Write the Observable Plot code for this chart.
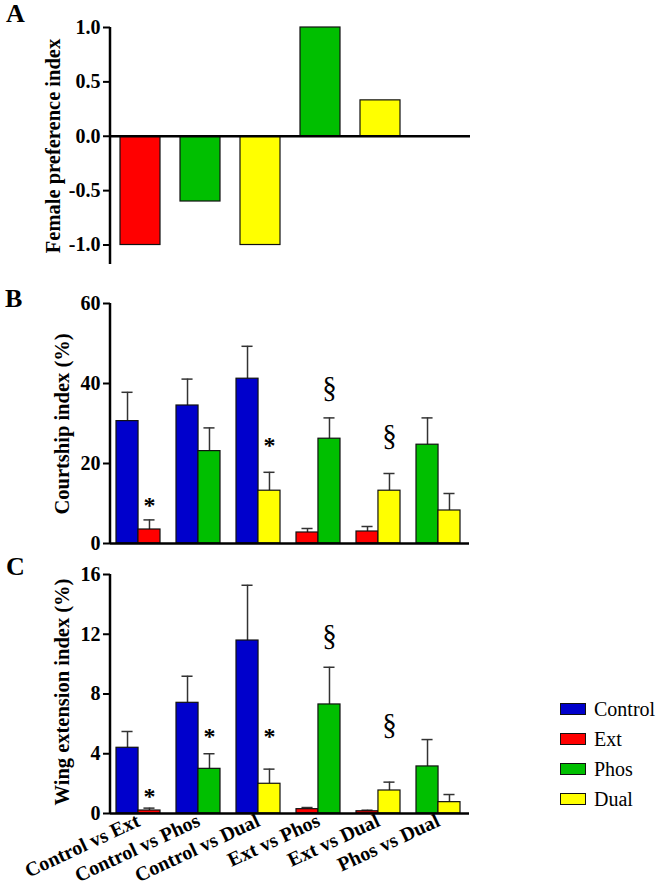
<!DOCTYPE html>
<html><head><meta charset="utf-8">
<script src="https://cdn.jsdelivr.net/npm/d3@7"></script>
<script src="https://cdn.jsdelivr.net/npm/@observablehq/plot@0.6"></script>
<style>
body{margin:0;background:#fff;}
#root{position:relative;width:658px;height:885px;overflow:hidden;font-family:"Liberation Serif","Times New Roman",Times,"DejaVu Serif","Noto Serif",serif;color:#000;background:#fff;}
.panel{position:absolute;left:0;}
.letter{position:absolute;font-size:26px;font-weight:bold;line-height:1;}
.ytitle{position:absolute;font-size:20.5px;font-weight:bold;white-space:nowrap;line-height:1;transform:translate(-50%,-50%) rotate(-90deg);}
.legend-item{position:absolute;left:560px;width:100px;height:12px;}
.swatch{position:absolute;left:0;top:0;width:26px;height:12px;box-sizing:border-box;border:1.5px solid #111;}
.legend-label{position:absolute;left:34px;top:50%;transform:translateY(-50%);font-size:20px;white-space:nowrap;line-height:1;}
</style>
</head><body>
<div id="root">
  <div class="letter" style="left:6px;top:1px">A</div>
  <div class="letter" style="left:5px;top:285.5px">B</div>
  <div class="letter" style="left:6px;top:553.5px">C</div>
  <div id="panelA" class="panel" style="top:0px"></div>
  <div id="panelB" class="panel" style="top:280px"></div>
  <div id="panelC" class="panel" style="top:555px"></div>
  <div class="ytitle" style="left:53px;top:146px">Female preference index</div>
  <div class="ytitle" style="left:62px;top:424px">Courtship index (%)</div>
  <div class="ytitle" style="left:62px;top:692px">Wing extension index (%)</div>
  <div id="legend"></div>
</div>
<script>
// ---------- data ----------
const comparisons = ["Control vs Ext","Control vs Phos","Control vs Dual","Ext vs Phos","Ext vs Dual","Phos vs Dual"];
const firstSeries = ["Control","Control","Control","Ext","Ext","Phos"];
const secondSeries = ["Ext","Phos","Dual","Phos","Dual","Dual"];
const seriesNames = ["Control","Ext","Phos","Dual"];
const seriesColors = ["#0000cc","#ff0000","#00bf00","#ffff00"];

// Panel A
const preferenceIndex = [-1.0, -0.6, -1.0, 1.0, 0.33, null];
const prefTicks = [-1.0, -0.5, 0.0, 0.5, 1.0];

// Panel B
const courtshipFirst = [30.6, 34.5, 41.2, 2.75, 3.0, 24.7];
const courtshipFirstSem = [7.2, 6.6, 8.1, 1.0, 1.25, 6.7];
const courtshipSecond = [3.5, 23.1, 13.2, 26.2, 13.2, 8.25];
const courtshipSecondSem = [2.4, 5.8, 4.6, 5.2, 4.3, 4.25];
const courtshipTicks = [0, 20, 40, 60];
const courtshipMarkComparison = ["Control vs Ext","Control vs Dual","Ext vs Phos","Ext vs Dual"];
const courtshipMarkSymbol = ["*","*","§","§"];
const courtshipMarkY = [10.5, 25.6, 38.5, 26.5];

// Panel C
const wingFirst = [4.4, 7.41, 11.58, 0.29, 0.15, 3.15];
const wingFirstSem = [1.09, 1.78, 3.7, 0.11, 0.07, 1.8];
const wingSecond = [0.2, 2.99, 1.99, 7.3, 1.54, 0.76];
const wingSecondSem = [0.16, 1.01, 0.98, 2.49, 0.56, 0.51];
const wingTicks = [0, 4, 8, 12, 16];
const wingMarkComparison = ["Control vs Ext","Control vs Phos","Control vs Dual","Ext vs Phos","Ext vs Dual"];
const wingMarkSymbol = ["*","*","*","§","§"];
const wingMarkY = [1.43, 5.42, 5.42, 11.75, 5.82];

// ---------- helpers ----------
const FONT = '"Liberation Serif","Times New Roman",Times,"DejaVu Serif","Noto Serif",serif';
const baseStyle = () => ({fontFamily: FONT, fontSize: "20px", fontWeight: "bold", color: "#000", background: "transparent", overflow: "visible"});
const colorScale = {domain: seriesNames, range: seriesColors};

function addYAxisLine(svg, x) {
  const [a, b] = svg.scale("y").range;
  d3.select(svg).append("line")
    .attr("x1", x).attr("x2", x)
    .attr("y1", Math.max(a, b) + 1).attr("y2", Math.min(a, b))
    .attr("stroke", "#000").attr("stroke-width", 2.5);
}

// ---------- Panel A ----------
const prefRows = comparisons.map((c, i) => ({comparison: c, series: secondSeries[i], value: preferenceIndex[i]}))
  .filter(d => d.value != null);

const plotA = Plot.plot({
  width: 480, height: 275,
  marginLeft: 110, marginRight: 10, marginTop: 27, marginBottom: 12,
  style: baseStyle(),
  x: {domain: comparisons, paddingInner: 1/3, paddingOuter: 1/6, axis: null},
  y: {domain: [-1.17, 1]},
  color: colorScale,
  marks: [
    Plot.barY(prefRows, {x: "comparison", y: "value", fill: "series", stroke: "#111", strokeWidth: 1.2}),
    Plot.ruleY([0], {stroke: "#000", strokeWidth: 2.5}),
    Plot.axisY({ticks: prefTicks, tickFormat: d => d.toFixed(1), tickSize: 7, tickPadding: 3, strokeWidth: 2, label: null})
  ]
});
addYAxisLine(plotA, 110);
document.getElementById("panelA").appendChild(plotA);

// ---------- grouped panels ----------
function groupedPanel(o) {
  const rows = comparisons.flatMap((c, i) => [
    {comparison: c, slot: 1, series: firstSeries[i], value: o.first[i], sem: o.firstSem[i]},
    {comparison: c, slot: 2, series: secondSeries[i], value: o.second[i], sem: o.secondSem[i]}
  ]);
  const r1 = rows.filter(d => d.slot === 1), r2 = rows.filter(d => d.slot === 2);
  const xRange = [107, 468], pi = 0.27, po = 0.135;
  const step = (xRange[1] - xRange[0]) / (comparisons.length - pi + 2 * po);
  const bw = step * (1 - pi);
  const q = bw / 4, cap = 5.5;
  const top = d => d.value + d.sem;
  const err = {stroke: "#333", strokeWidth: 1.5};
  const bar = {x: "comparison", y: "value", fill: "series", stroke: "#111", strokeWidth: 1.2};
  const markRows = o.markComparison.map((c, i) => ({comparison: c, symbol: o.markSymbol[i], y: o.markY[i]}));
  const marks = [
    Plot.ruleX(r1, {x: "comparison", y1: "value", y2: top, dx: -q, ...err}),
    Plot.ruleX(r2, {x: "comparison", y1: "value", y2: top, dx: q, ...err}),
    Plot.tickY(r1, {x: "comparison", y: top, insetLeft: q - cap, insetRight: 3 * q - cap, ...err}),
    Plot.tickY(r2, {x: "comparison", y: top, insetLeft: 3 * q - cap, insetRight: q - cap, ...err}),
    Plot.barY(r1, {...bar, insetRight: bw / 2}),
    Plot.barY(r2, {...bar, insetLeft: bw / 2}),
    Plot.ruleY([0], {stroke: "#000", strokeWidth: 2.5}),
    Plot.text(markRows.filter(d => d.symbol === "*"), {x: "comparison", y: "y", text: "symbol", dx: q, dy: 4, fontSize: 24, fontWeight: "bold"}),
    Plot.text(markRows.filter(d => d.symbol !== "*"), {x: "comparison", y: "y", text: "symbol", dx: q, dy: -2, fontSize: 29, fontWeight: "normal"}),
    Plot.axisY({ticks: o.ticks, tickSize: 7, tickPadding: 3, strokeWidth: 2, label: null})
  ];
  if (o.showX) marks.push(Plot.axisX({tickRotate: -25, tickSize: 0, tickPadding: 6, label: null}));
  const svg = Plot.plot({
    width: 480, height: o.height,
    marginLeft: 110, marginRight: 11, marginTop: o.marginTop, marginBottom: o.marginBottom,
    style: baseStyle(),
    x: {domain: comparisons, range: xRange, paddingInner: pi, paddingOuter: po, axis: o.showX ? undefined : null},
    y: {domain: o.yDomain},
    color: colorScale,
    marks
  });
  addYAxisLine(svg, 110);
  return svg;
}

document.getElementById("panelB").appendChild(groupedPanel({
  first: courtshipFirst, firstSem: courtshipFirstSem, second: courtshipSecond, secondSem: courtshipSecondSem,
  markComparison: courtshipMarkComparison, markSymbol: courtshipMarkSymbol, markY: courtshipMarkY,
  ticks: courtshipTicks, yDomain: [0, 60], height: 275, marginTop: 23, marginBottom: 12, showX: false
}));

document.getElementById("panelC").appendChild(groupedPanel({
  first: wingFirst, firstSem: wingFirstSem, second: wingSecond, secondSem: wingSecondSem,
  markComparison: wingMarkComparison, markSymbol: wingMarkSymbol, markY: wingMarkY,
  ticks: wingTicks, yDomain: [0, 16], height: 330, marginTop: 19, marginBottom: 72, showX: true
}));

// ---------- legend ----------
const legend = document.getElementById("legend");
seriesNames.forEach((name, i) => {
  const item = document.createElement("div");
  item.className = "legend-item";
  item.style.top = (703 + i * 30) + "px";
  const sw = document.createElement("div");
  sw.className = "swatch";
  sw.style.background = seriesColors[i];
  const lab = document.createElement("div");
  lab.className = "legend-label";
  lab.textContent = name;
  item.appendChild(sw); item.appendChild(lab);
  legend.appendChild(item);
});
</script>
</body></html>
